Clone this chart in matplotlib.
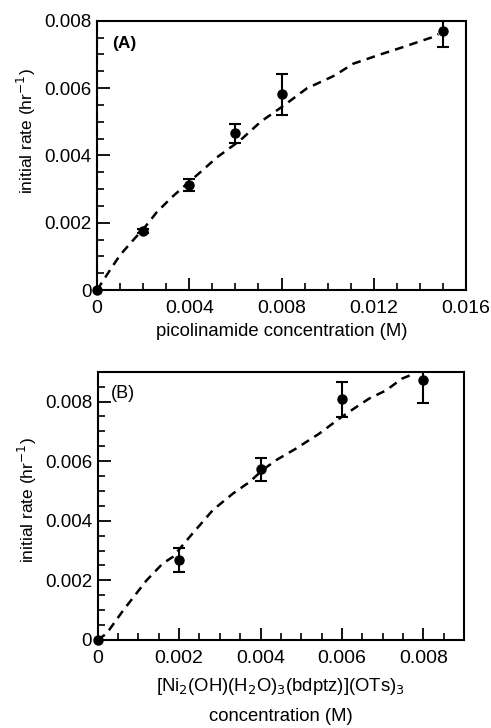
import matplotlib.pyplot as plt
from matplotlib.ticker import MultipleLocator

plt.rcParams['font.family'] = ['Liberation Sans', 'DejaVu Sans']

# panel A: picolinamide
conc_a = [0.0, 0.002, 0.004, 0.006, 0.008, 0.015]
rate_a = [0.0, 0.00175, 0.00313, 0.00466, 0.00581, 0.00768]
err_a = [0.0, 0.00005, 0.00018, 0.00028, 0.0006, 0.00047]
fit_xa = [0.0, 0.00057, 0.001, 0.0015, 0.00209, 0.0026, 0.00325, 0.00374, 0.00448,
          0.0052, 0.0062, 0.0071, 0.0081, 0.0091, 0.0103, 0.0111, 0.0123, 0.0132,
          0.0145, 0.0148]
fit_ya = [0.0, 0.0006, 0.00104, 0.00143, 0.00188, 0.00232, 0.00276, 0.00306, 0.0035,
          0.00394, 0.00444, 0.005, 0.00548, 0.00599, 0.00637, 0.00672, 0.007, 0.0072,
          0.0075, 0.0076]

# panel B: Ni complex
conc_b = [0.0, 0.002, 0.004, 0.006, 0.008]
rate_b = [0.0, 0.00268, 0.00572, 0.00807, 0.00871]
err_b = [0.0, 0.0004, 0.0004, 0.0006, 0.00076]
fit_xb = [0.0, 0.00022, 0.00063, 0.0012, 0.0016, 0.00185, 0.00226, 0.00283, 0.00332,
          0.00373, 0.00405, 0.00438, 0.00487, 0.00544, 0.00593, 0.00626, 0.00667,
          0.00708, 0.00748, 0.00777]
fit_yb = [0.0, 0.00022, 0.001, 0.002, 0.00257, 0.00279, 0.00346, 0.00436, 0.00491,
          0.0053, 0.0057, 0.00603, 0.00642, 0.00692, 0.00742, 0.00773, 0.0081,
          0.00837, 0.00877, 0.00893]

ticks_a = [0, 0.004, 0.008, 0.012, 0.016]
ticks_b = [0, 0.002, 0.004, 0.006, 0.008]

fig = plt.figure(figsize=(4.91, 7.28), dpi=100)
ax1 = fig.add_axes([0.1976, 0.6016, 0.7515, 0.370])
ax2 = fig.add_axes([0.199, 0.1209, 0.746, 0.3685])


def style(ax):
    for s in ax.spines.values():
        s.set_linewidth(1.5)
    ax.tick_params(which='major', direction='in', length=9, width=1.3, pad=4)
    ax.tick_params(which='minor', direction='in', length=5, width=1.2)
    ax.tick_params(axis='x', which='major', pad=7, labelsize=14)
    ax.tick_params(axis='y', which='major', labelsize=13.5)


def draw(ax, fx, fy, cx, cy, ce):
    ax.plot(fx, fy, color='black', lw=1.8, dashes=(3.5, 2.5))
    line, caps, bars = ax.errorbar(cx, cy, yerr=ce, fmt='o', color='black', ms=6.5,
                                   elinewidth=1.5, capsize=4, capthick=1.5)
    line.set_clip_on(False)


def fmt(t):
    return ['0' if v == 0 else '%.3f' % v for v in t]


# top panel
draw(ax1, fit_xa, fit_ya, conc_a, rate_a, err_a)
ax1.set_xlim(0, 0.016)
ax1.set_ylim(0, 0.008)
ax1.set_xticks(ticks_a)
ax1.set_xticklabels(fmt(ticks_a))
ax1.xaxis.set_minor_locator(MultipleLocator(0.001))
ax1.set_yticks(ticks_b)
ax1.set_yticklabels(fmt(ticks_b))
ax1.yaxis.set_minor_locator(MultipleLocator(0.0005))
style(ax1)
ax1.text(0.04, 0.917, '(A)', transform=ax1.transAxes, fontsize=12.5,
         fontweight='bold', va='center')
ax1.text(0.5, -0.155, 'picolinamide concentration (M)', transform=ax1.transAxes,
         fontsize=13.3, ha='center', va='center')
ax1.text(-0.192, 0.59, 'initial rate (hr$^{-1}$)', transform=ax1.transAxes,
         fontsize=12.5, rotation=90, ha='center', va='center')

# bottom panel
draw(ax2, fit_xb, fit_yb, conc_b, rate_b, err_b)
ax2.set_xlim(0, 0.009)
ax2.set_ylim(0, 0.009)
ax2.set_xticks(ticks_b)
ax2.set_xticklabels(fmt(ticks_b))
ax2.xaxis.set_minor_locator(MultipleLocator(0.0005))
ax2.set_yticks(ticks_b)
ax2.set_yticklabels(fmt(ticks_b))
ax2.yaxis.set_minor_locator(MultipleLocator(0.0005))
style(ax2)
ax2.text(0.035, 0.92, '(B)', transform=ax2.transAxes, fontsize=13, va='center')
ax2.text(0.5, -0.172, '[Ni$_2$(OH)(H$_2$O)$_3$(bdptz)](OTs)$_3$',
         transform=ax2.transAxes, fontsize=13.3, ha='center', va='center')
ax2.text(0.5, -0.285, 'concentration (M)', transform=ax2.transAxes,
         fontsize=13.3, ha='center', va='center')
ax2.text(-0.192, 0.52, 'initial rate (hr$^{-1}$)', transform=ax2.transAxes,
         fontsize=12.5, rotation=90, ha='center', va='center')

fig.savefig('out.png', dpi=100)
